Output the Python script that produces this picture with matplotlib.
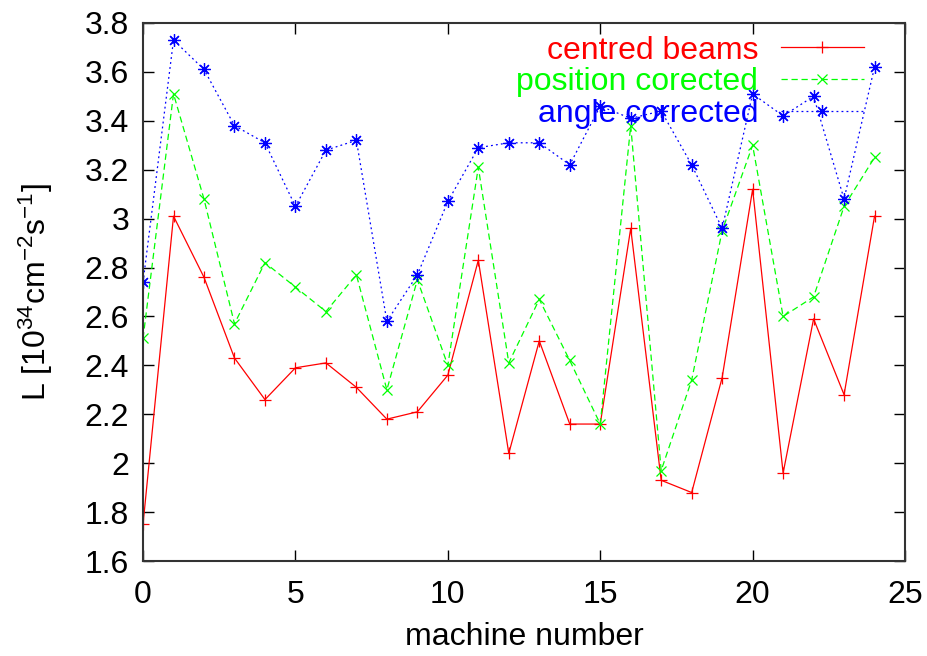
import matplotlib
matplotlib.use("Agg")
import matplotlib.pyplot as plt
from matplotlib.ticker import FuncFormatter, MultipleLocator

plt.rcParams['font.family'] = ['Liberation Sans', 'DejaVu Sans']
plt.rcParams['mathtext.default'] = 'regular'

# machine index and luminosity values for the three cases
machines = list(range(25))
centred = [1.75, 3.01, 2.76, 2.43, 2.26, 2.39, 2.41, 2.31, 2.18, 2.21,
           2.36, 2.83, 2.04, 2.50, 2.16, 2.16, 2.96, 1.93, 1.88, 2.35,
           3.12, 1.96, 2.59, 2.28, 3.01]
position = [2.51, 3.51, 3.08, 2.57, 2.82, 2.72, 2.62, 2.77, 2.30, 2.75,
            2.40, 3.21, 2.41, 2.67, 2.42, 2.16, 3.38, 1.97, 2.34, 2.95,
            3.30, 2.60, 2.68, 3.05, 3.25]
angle = [2.74, 3.73, 3.61, 3.38, 3.31, 3.05, 3.28, 3.32, 2.58, 2.77,
         3.07, 3.29, 3.31, 3.31, 3.22, 3.46, 3.41, 3.44, 3.22, 2.96,
         3.51, 3.42, 3.50, 3.08, 3.62]

fs = 23

fig = plt.figure(figsize=(9.27, 6.56), dpi=100)
ax = fig.add_axes([0.1543, 0.1448, 0.822, 0.8202])

ax.plot(machines, centred, color='#ff0000', lw=0.9, ls='-',
        marker='+', ms=9, mew=0.9, label='centred beams')
ax.plot(machines, position, color='#00ff00', lw=0.9, ls=(0, (5, 3)),
        marker='x', ms=7, mew=0.9, label='position corected')
ax.plot(machines, angle, color='#0000ff', lw=0.9, ls=(0, (1.5, 2.5)),
        marker=(8, 2, 0), ms=9, mew=0.9, label='angle corrected')

ax.set_xlim(0, 25)
ax.set_ylim(1.6, 3.8)
ax.xaxis.set_major_locator(MultipleLocator(5))
ax.yaxis.set_major_locator(MultipleLocator(0.2))
ax.yaxis.set_major_formatter(FuncFormatter(lambda v, p: '%g' % round(v, 2)))
ax.tick_params(direction='in', length=8, width=1, top=True, right=True,
               labelsize=fs, pad=10)
ax.tick_params(axis='x', pad=14)
for s in ax.spines.values():
    s.set_linewidth(1.5)
    s.set_color('#333333')

ax.set_xlabel('machine number', fontsize=fs, labelpad=8)
ax.set_ylabel(r'L [10$^{34}$cm$^{-2}$s$^{-1}$]', fontsize=fs, labelpad=21)

ax.legend(loc='upper right', bbox_to_anchor=(0.973, 1.015), frameon=False,
          markerfirst=False, labelcolor='linecolor', fontsize=fs,
          handlelength=2.6, handletextpad=0.7, labelspacing=0.05,
          borderpad=0.15)

fig.savefig('out.png', dpi=100)
